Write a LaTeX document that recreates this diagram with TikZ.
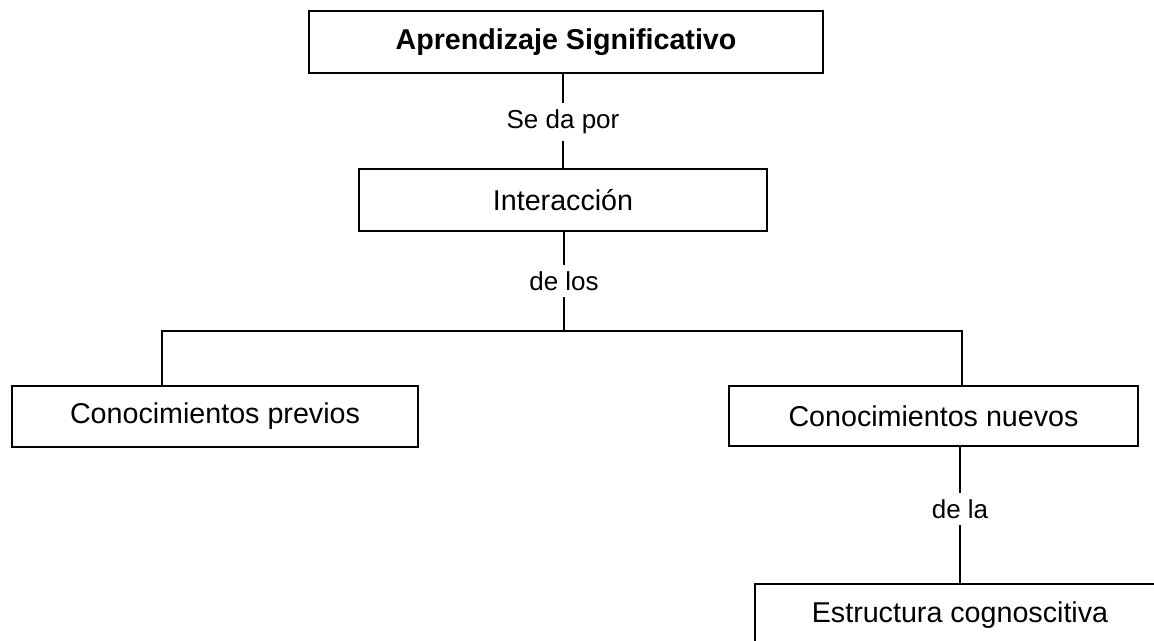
\documentclass[tikz,border=0pt]{standalone}
\usepackage{fontspec}
\setmainfont{Liberation Sans}
\usepackage{tikz}

\tikzset{
    caja/.style={draw, line width=1.3pt, inner sep=0pt, font=\fontsize{21.5}{26}\selectfont},
    enlace/.style={inner sep=5pt, font=\fontsize{19.5}{24}\selectfont},
    linea/.style={line width=1.3pt}
}

\begin{document}
\begin{tikzpicture}[x=0.75pt, y=-0.75pt]
                \clip (0,0) rectangle (1154,641);
                \node [caja, minimum width=385.5pt, minimum height=46.5pt] (aprendizaje) at (566,42) {\textbf{Aprendizaje Significativo}};
                \node [enlace] (sedapor) at (563,122) {Se da por};
                \node [caja, minimum width=306pt, minimum height=46.5pt] (interaccion) at (563,200) {Interacción};
                \node [enlace] (delos) at (564,281) {de los};
                \coordinate (rama) at (564,331);
                \coordinate (ramaizq) at (162,331);
                \coordinate (ramader) at (962,331);
                \node [caja, minimum width=304.5pt, minimum height=45.75pt] (previos) at (215,416.5) {Conocimientos previos};
                \node [caja, minimum width=306.75pt, minimum height=45pt] (nuevos) at (933.5,416) {Conocimientos nuevos};
                \node [enlace] (dela) at (960,509) {de la};
                \node [caja, minimum width=307.5pt, minimum height=46.5pt] (estructura) at (960,615) {Estructura cognoscitiva};
                \draw [linea] (aprendizaje.south -| sedapor) -- (sedapor) -- (interaccion.north -| sedapor);
                \draw [linea] (interaccion.south -| delos) -- (delos) -- (rama);
                \draw [linea] (previos.north -| ramaizq) -- (ramaizq) -- (ramader) -- (nuevos.north -| ramader);
                \draw [linea] (nuevos.south -| dela) -- (dela) -- (estructura.north -| dela);
            \end{tikzpicture}
\end{document}
